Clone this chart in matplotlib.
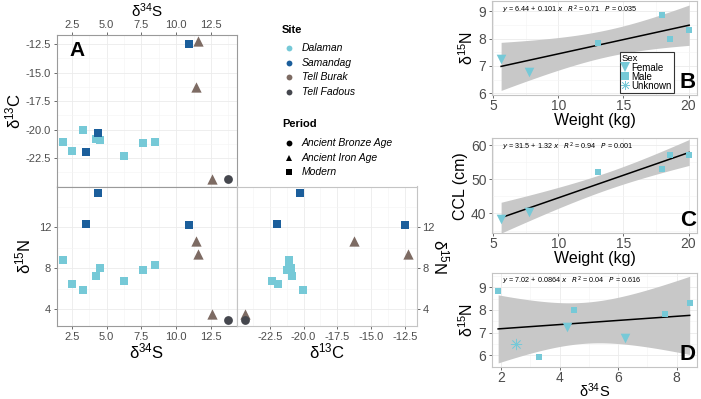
import matplotlib
matplotlib.use('Agg')
import matplotlib.pyplot as plt
from matplotlib.lines import Line2D
from matplotlib.ticker import MultipleLocator, FormatStrFormatter
import numpy as np

plt.rcParams['font.family'] = ['Liberation Sans', 'DejaVu Sans']
plt.rcParams['mathtext.default'] = 'regular'
plt.rcParams['axes.unicode_minus'] = False

# isotope values per site: d34S, d13C, d15N
sites = ['Dalaman', 'Samandag', 'Tell Burak', 'Tell Fadous']
site_colors = ['#76c9d7', '#1b5e9b', '#7d6b63', '#45474e']
site_marker = ['s', 's', '^', 'o']

dal_s = [1.9, 2.5, 3.3, 4.25, 4.5, 6.25, 7.6, 8.45]
dal_c = [-21.1, -21.9, -20.05, -20.85, -20.9, -22.3, -21.2, -21.05]
dal_n = [8.85, 6.5, 5.92, 7.27, 8.0, 6.78, 7.82, 8.32]
dal_sex = ['Male', 'Unknown', 'Male', 'Female', 'Male', 'Female', 'Male', 'Male']

sam_s = [10.95, 4.4, 3.55]
sam_c = [-12.5, -20.3, -22.0]
sam_n = [12.2, 15.37, 12.33]

bur_s = [11.6, 11.45, 12.6]
bur_c = [-12.25, -16.3, -24.3]
bur_n = [9.42, 10.7, 3.55]

fad_s = [13.75]
fad_c = [-24.35]
fad_n = [2.9]

periods = ['Ancient Bronze Age', 'Ancient Iron Age', 'Modern']
period_marker = ['o', '^', 's']

# Dalaman individuals with body measurements
weight = [5.6, 7.75, 13.05, 17.95, 18.55, 20.05]
ccl = [38.4, 40.3, 52.0, 53.0, 57.0, 57.0]
weight_n = [7.27, 6.78, 7.82, 8.85, 8.0, 8.32]
weight_sex = ['Female', 'Female', 'Male', 'Male', 'Male', 'Male']

sexes = ['Female', 'Male', 'Unknown']
sex_marker = {'Female': 'v', 'Male': 's', 'Unknown': (8, 2, 0)}

eq_b = '$\\it{y}$ = 6.44 + 0.101 $\\it{x}$   $\\it{R}^2$ = 0.71   $\\it{P}$ = 0.035'
eq_c = '$\\it{y}$ = 31.5 + 1.32 $\\it{x}$   $\\it{R}^2$ = 0.94   $\\it{P}$ = 0.001'
eq_d = '$\\it{y}$ = 7.02 + 0.0864 $\\it{x}$   $\\it{R}^2$ = 0.04   $\\it{P}$ = 0.616'

W, H = 701, 399
fig = plt.figure(figsize=(W / 100, H / 100), dpi=100)


def px_axes(x0, y0, x1, y1):
    return fig.add_axes([x0 / W, 1 - y1 / H, (x1 - x0) / W, (y1 - y0) / H])


def style(ax, edge='#a8a8a8', tsize=8):
    ax.grid(True, which='major', color='#ebebeb', lw=0.6, zorder=0)
    ax.grid(True, which='minor', color='#f4f4f4', lw=0.4, zorder=0)
    ax.set_axisbelow(True)
    for sp in ax.spines.values():
        sp.set_color(edge)
        sp.set_linewidth(0.8)
    ax.tick_params(which='major', length=2.5, width=0.6, color='#555555',
                   labelcolor='#4d4d4d', labelsize=tsize, pad=1.5)
    ax.tick_params(which='minor', length=0)


groups = [(dal_s, dal_c, dal_n), (sam_s, sam_c, sam_n),
          (bur_s, bur_c, bur_n), (fad_s, fad_c, fad_n)]
msize = {'s': 30, '^': 55, 'o': 40}

# ---- panel A: d34S vs d13C
axA = px_axes(56.7, 35, 236.7, 186.5)
style(axA, edge='#9a9a9a')
for (s, c, n), col, m in zip(groups, site_colors, site_marker):
    axA.scatter(s, c, s=msize[m], marker=m, color=col, linewidths=0, zorder=3)
axA.set_xlim(1.42, 14.35)
axA.set_ylim(-25.0, -11.7)
axA.xaxis.tick_top()
axA.xaxis.set_label_position('top')
axA.tick_params(axis='x', pad=1)
axA.set_xticks([2.5, 5, 7.5, 10, 12.5])
axA.xaxis.set_major_formatter(FormatStrFormatter('%.1f'))
axA.set_yticks([-12.5, -15, -17.5, -20, -22.5])
axA.yaxis.set_major_formatter(FormatStrFormatter('%.1f'))
axA.xaxis.set_minor_locator(MultipleLocator(1.25))
axA.yaxis.set_minor_locator(MultipleLocator(1.25))
axA.set_xlabel('δ$^{34}$S', fontsize=11, labelpad=2.5)
axA.set_ylabel('δ$^{13}$C', fontsize=12, labelpad=2)
axA.text(0.07, 0.9, 'A', transform=axA.transAxes, fontsize=15,
         fontweight='bold', ha='left', va='center')

# ---- bottom left: d34S vs d15N
axSN = px_axes(56.7, 186.5, 236.7, 326)
style(axSN, edge='#9a9a9a')
for (s, c, n), col, m in zip(groups, site_colors, site_marker):
    axSN.scatter(s, n, s=msize[m], marker=m, color=col, linewidths=0, zorder=3)
axSN.set_xlim(1.42, 14.35)
axSN.set_ylim(2.35, 16.0)
axSN.set_xticks([2.5, 5, 7.5, 10, 12.5])
axSN.xaxis.set_major_formatter(FormatStrFormatter('%.1f'))
axSN.set_yticks([4, 8, 12])
axSN.xaxis.set_minor_locator(MultipleLocator(1.25))
axSN.yaxis.set_minor_locator(MultipleLocator(2))
axSN.set_xlabel('δ$^{34}$S', fontsize=12, labelpad=0)
axSN.set_ylabel('δ$^{15}$N', fontsize=12, labelpad=4)

# ---- bottom right: d13C vs d15N
axCN = px_axes(236.7, 186.5, 417, 326)
style(axCN, edge='#c4c4c4')
for (s, c, n), col, m in zip(groups, site_colors, site_marker):
    axCN.scatter(c, n, s=msize[m], marker=m, color=col, linewidths=0, zorder=3)
axCN.set_xlim(-24.95, -11.6)
axCN.set_ylim(2.35, 16.0)
axCN.set_xticks([-22.5, -20, -17.5, -15, -12.5])
axCN.xaxis.set_major_formatter(FormatStrFormatter('%.1f'))
axCN.set_yticks([4, 8, 12])
axCN.xaxis.set_minor_locator(MultipleLocator(1.25))
axCN.yaxis.set_minor_locator(MultipleLocator(2))
axCN.yaxis.tick_right()
axCN.yaxis.set_label_position('right')
axCN.set_xlabel('δ$^{13}$C', fontsize=12, labelpad=0)
axCN.set_ylabel('δ$^{15}$N', fontsize=12, rotation=270, labelpad=11)

# ---- site / period legend
lax = fig.add_axes([0, 0, 1, 1])
lax.set_xlim(0, W)
lax.set_ylim(H, 0)
lax.axis('off')
lax.text(282, 30, 'Site', fontsize=8, fontweight='bold', va='center')
for i, (name, col) in enumerate(zip(sites, site_colors)):
    y = 48 + i * 14.6
    lax.plot(289, y, 'o', ms=4.2, color=col, mew=0)
    lax.text(302, y, name, fontsize=7.5, style='italic', va='center')
lax.text(282, 124, 'Period', fontsize=8, fontweight='bold', va='center')
for i, (name, m) in enumerate(zip(periods, period_marker)):
    y = 143 + i * 14.6
    lax.plot(289, y, m, ms=4.2, color='black', mew=0)
    lax.text(302, y, name, fontsize=7.5, style='italic', va='center')


def lm_band(x, y, t):
    x = np.asarray(x, float)
    y = np.asarray(y, float)
    b, a = np.polyfit(x, y, 1)
    xs = np.linspace(x.min(), x.max(), 80)
    fit = a + b * xs
    resid = y - (a + b * x)
    s = np.sqrt(np.sum(resid ** 2) / (len(x) - 2))
    se = s * np.sqrt(1 / len(x) + (xs - x.mean()) ** 2 / np.sum((x - x.mean()) ** 2))
    return xs, fit, fit - t * se, fit + t * se


def reg_panel(ax, x, y, sex, t, eq, letter):
    style(ax, edge='#c4c4c4', tsize=10)
    ax.tick_params(axis='x', pad=0.5)
    xs, fit, lo, hi = lm_band(x, y, t)
    ax.fill_between(xs, lo, hi, color='#c8c8c8', lw=0, zorder=1)
    ax.plot(xs, fit, color='black', lw=1.1, zorder=2)
    for xi, yi, sx in zip(x, y, sex):
        m = sex_marker[sx]
        if sx == 'Unknown':
            ax.scatter(xi, yi, s=60, marker=m, color=site_colors[0], linewidths=0.5, zorder=3)
        else:
            ax.scatter(xi, yi, s=24 if m == 's' else 48, marker=m, color=site_colors[0],
                       linewidths=0, zorder=3)
    ax.text(0.05, 0.91, eq, transform=ax.transAxes, fontsize=5.2, va='center')
    ax.text(0.995, 0.02, letter, transform=ax.transAxes, fontsize=16,
            fontweight='bold', ha='right', va='bottom')


# ---- panel B: weight vs d15N
axB = px_axes(492, 1.5, 697, 94.5)
reg_panel(axB, weight, weight_n, weight_sex, 2.776, eq_b, 'B')
axB.set_xlim(4.9, 20.65)
axB.set_ylim(5.96, 9.35)
axB.set_xticks([5, 10, 15, 20])
axB.set_yticks([6, 7, 8, 9])
axB.xaxis.set_minor_locator(MultipleLocator(2.5))
axB.yaxis.set_minor_locator(MultipleLocator(0.5))
axB.set_xlabel('Weight (kg)', fontsize=11.5, labelpad=0)
axB.set_ylabel('δ$^{15}$N', fontsize=11.5, labelpad=2)
handles = [Line2D([], [], ls='', marker=sex_marker[s], color=site_colors[0],
                  ms=7.5 if s == 'Female' else (5.5 if s == 'Male' else 6.5),
                  mew=0 if s != 'Unknown' else 0.5) for s in sexes]
leg = axB.legend(handles, sexes, title='Sex', loc='lower right',
                 bbox_to_anchor=(0.887, 0.02), fontsize=7, title_fontsize=6.8,
                 frameon=True, fancybox=False, edgecolor='#333333', framealpha=1,
                 borderpad=0.2, labelspacing=-0.1, handlelength=0.7,
                 handletextpad=0.3, borderaxespad=0)
leg._legend_box.align = 'left'
leg._legend_box.sep = 0
leg.get_frame().set_linewidth(0.8)

# ---- panel C: weight vs CCL
axC = px_axes(492, 138.3, 697, 233.3)
reg_panel(axC, weight, ccl, weight_sex, 2.776, eq_c, 'C')
axC.set_xlim(4.9, 20.65)
axC.set_ylim(34.2, 61.96)
axC.set_xticks([5, 10, 15, 20])
axC.set_yticks([40, 50, 60])
axC.xaxis.set_minor_locator(MultipleLocator(2.5))
axC.yaxis.set_minor_locator(MultipleLocator(5))
axC.set_xlabel('Weight (kg)', fontsize=11.5, labelpad=0)
axC.set_ylabel('CCL (cm)', fontsize=11.5, labelpad=2)

# ---- panel D: d34S vs d15N (Dalaman)
axD = px_axes(492, 272.7, 697, 366.7)
reg_panel(axD, dal_s, dal_n, dal_sex, 2.447, eq_d, 'D')
axD.set_xlim(1.69, 8.7)
axD.set_ylim(5.5, 9.64)
axD.set_xticks([2, 4, 6, 8])
axD.set_yticks([6, 7, 8, 9])
axD.xaxis.set_minor_locator(MultipleLocator(1))
axD.yaxis.set_minor_locator(MultipleLocator(0.5))
axD.set_xlabel('δ$^{34}$S', fontsize=10.5, labelpad=-2.5)
axD.set_ylabel('δ$^{15}$N', fontsize=11.5, labelpad=2)

fig.savefig('out.png', dpi=100)
